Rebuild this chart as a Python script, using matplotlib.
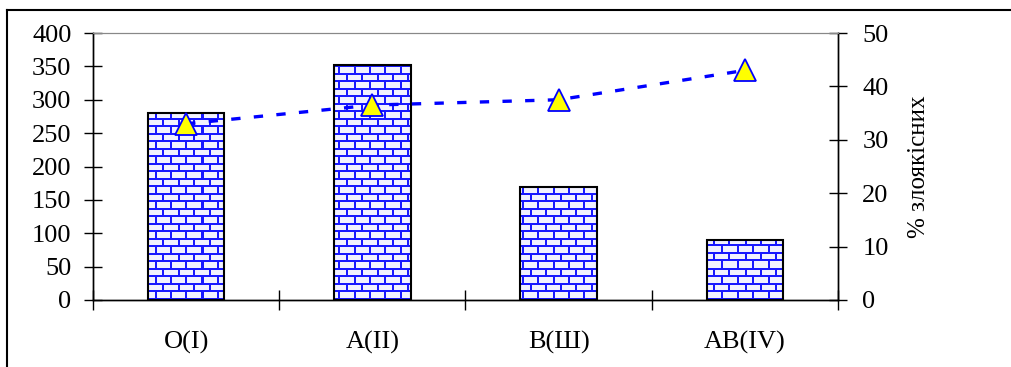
import matplotlib.pyplot as plt
import numpy as np
from matplotlib.lines import Line2D

plt.rcParams["font.family"] = ["Liberation Serif", "DejaVu Serif"]

categories = ["O(I)", "A(II)", "B(Ш)", "AB(IV)"]
counts = [280, 352, 170, 90]
malignant_pct = [33, 36.5, 37.5, 43]

BLUE = "#0000ff"


def brick_texture(width_px, height_px, row_h=7.5, brick_w=15.3, mortar=2.0):
    """White bricks with blue mortar, one texel per screen pixel."""
    yy, xx = np.mgrid[0:height_px, 0:width_px].astype(float)
    row = np.floor(yy / row_h)
    horiz = (yy % row_h) < mortar
    vert = ((xx + (row % 2) * brick_w / 2) % brick_w) < mortar
    img = np.ones((height_px, width_px, 3))
    img[:] = (0.95, 0.95, 1.0)
    img[horiz | vert] = (0.1, 0.1, 1.0)
    return img


fig = plt.figure(figsize=(10.12, 3.67), dpi=100)
ax = fig.add_axes([93 / 1012, 67 / 367, 745 / 1012, 267 / 367])
ax2 = ax.twinx()

x = np.arange(len(categories))
bars = ax.bar(x, counts, width=0.41, facecolor="none", edgecolor="black",
              linewidth=1.5, zorder=3)

texture = brick_texture(745, 267)
for bar in bars:
    im = ax.imshow(texture, extent=[-0.5, len(categories) - 0.5, 400, 0],
                   aspect="auto", interpolation="nearest", zorder=2)
    im.set_clip_path(bar)
ax.set_xlim(-0.5, len(categories) - 0.5)
ax.set_ylim(0, 400)
ax2.set_ylim(0, 50)

ax2.plot(x, malignant_pct, color=BLUE, linestyle=(0, (2.8, 4.0)), linewidth=2.4,
         marker="^", markersize=16, markerfacecolor="#ffff00",
         markeredgecolor=BLUE, markeredgewidth=1.3, zorder=4)

ax.set_yticks(np.arange(0, 401, 50))
ax2.set_yticks(np.arange(0, 51, 10))
ax.set_xticks(x)
ax.set_xticklabels(categories)
ax.set_xticks(np.arange(-0.5, len(categories)), minor=True)
ax.tick_params(axis="x", which="major", length=0, pad=22, labelsize=19)
ax.tick_params(axis="x", which="minor", direction="inout", length=14, width=1)
ax.tick_params(axis="y", direction="inout", length=13, width=1, labelsize=19, pad=9)
ax2.tick_params(axis="y", direction="inout", length=13, width=1, labelsize=19, pad=11)

ax2.set_ylabel("% злоякісних", rotation=90, fontsize=18, labelpad=14)

for a in (ax, ax2):
    a.spines["top"].set_color("#888888")
    a.spines["left"].set_linewidth(1)
    a.spines["right"].set_linewidth(1)
    a.spines["bottom"].set_linewidth(1)

# outer chart frame
fig.add_artist(Line2D([7 / 1012, 7 / 1012], [0, 1 - 10 / 367], color="black", lw=1.5))
fig.add_artist(Line2D([7 / 1012, 1], [1 - 10 / 367, 1 - 10 / 367], color="black", lw=1.5))

fig.savefig("out.png", dpi=100)
